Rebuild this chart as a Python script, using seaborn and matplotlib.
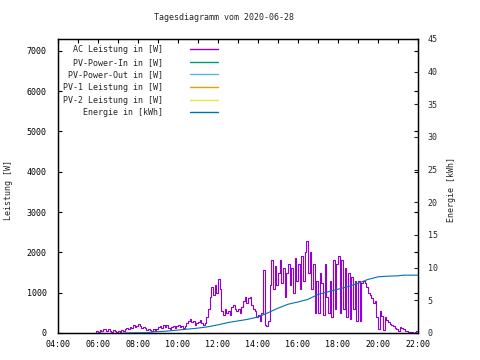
import numpy as np
import pandas as pd
import matplotlib
matplotlib.use("Agg")
import matplotlib.pyplot as plt
import seaborn as sns

# AC Leistung [W], 5-Minuten-Werte ab 05:50
ac_start = "05:50"
ac_watt = [0, 50,
           30, 80, 60, 100, 90, 40, 100, 60, 30, 80, 40, 20,
           60, 30, 80, 50, 100, 120, 90, 150, 120, 200, 160, 180,
           230, 180, 130, 160, 120, 80, 100, 70, 60, 90, 50, 100,
           150, 180, 120, 200, 160, 190, 130, 100, 150, 180, 120, 170,
           200, 150, 180, 120, 170, 250, 300, 350, 280, 300, 200, 250,
           280, 330, 250, 200, 250, 400, 600, 900, 1150, 950, 1200, 1000,
           1350, 1100, 550, 450, 600, 500, 550, 450, 650, 700, 600, 550,
           600, 500, 650, 800, 900, 750, 880, 900, 700, 600, 550, 400,
           450, 300, 500, 1550, 200, 180, 300, 1200, 1800, 1100, 1650, 1200,
           1500, 1800, 1250, 1600, 900, 1500, 1700, 1200, 1600, 1000, 1850, 1300,
           1700, 1100, 1900, 1300, 2000, 2280, 1500, 2000, 1100, 1700, 500, 1300,
           500, 1500, 1250, 450, 1700, 900, 500, 1300, 400, 1800, 600, 1700,
           1900, 500, 1800, 600, 1600, 400, 1500, 350, 1400, 600, 1300, 300,
           1300, 300, 1250, 1300, 1250, 1150, 1000, 950, 880, 750, 800, 400,
           100, 550, 420, 80, 400, 330, 280, 230, 200, 180, 130, 100,
           40, 150, 120, 90, 60, 40, 20, 10, 20, 10, 30, 50,
           40]

# Energie [kWh]
en_time = ["07:15", "08:30", "08:40", "09:00", "09:30", "10:00", "10:30", "11:00",
           "11:30", "12:00", "12:30", "13:00", "13:30", "14:00", "14:30", "15:00",
           "15:30", "16:00", "16:30", "17:00", "17:30", "18:00", "18:30", "19:00",
           "19:30", "20:00", "20:30", "21:00", "21:15", "22:00"]
en_kwh = [0, 0.05, 0.15, 0.2, 0.3, 0.45, 0.6, 0.75,
          0.95, 1.25, 1.6, 1.85, 2.1, 2.45, 3.1, 3.8,
          4.4, 4.75, 5.15, 5.9, 6.3, 6.7, 7.1, 7.6,
          8.2, 8.6, 8.7, 8.75, 8.85, 8.85]

tick_labels = ["04:00", "06:00", "08:00", "10:00", "12:00", "14:00", "16:00", "18:00", "20:00", "22:00"]


def to_hours(s):
    h, m = s.split(":")
    return int(h) + int(m) / 60


h0 = to_hours(ac_start)
ac = pd.DataFrame({"t": h0 + np.arange(len(ac_watt)) * 5 / 60, "w": ac_watt})
en = pd.DataFrame({"t": [to_hours(s) for s in en_time], "kwh": en_kwh})

sns.set_theme(style="white")
plt.rcParams["font.family"] = ["DejaVu Sans Mono"]
plt.rcParams["font.size"] = 6

fig = plt.figure(figsize=(4.8, 3.6), dpi=100)
ax = fig.add_axes([58 / 480, 27 / 360, 360 / 480, 294 / 360])
ax2 = ax.twinx()

sns.lineplot(data=ac, x="t", y="w", ax=ax, color="#9400d3", lw=0.8,
             drawstyle="steps-post", label="AC Leistung in [W]")
ax.plot([], [], color="#009e73", lw=1.0, label="PV-Power-In in [W]")
ax.plot([], [], color="#56b4e9", lw=1.0, label="PV-Power-Out in [W]")
ax.plot([], [], color="#e69f00", lw=1.0, label="PV-1 Leistung in [W]")
ax.plot([], [], color="#f0e442", lw=1.0, label="PV-2 Leistung in [W]")
sns.lineplot(data=en, x="t", y="kwh", ax=ax2, color="#0072b2", lw=0.8,
             label="Energie in [kWh]")

ax.set_xlim(4, 22)
ax.set_ylim(0, 7290)
ax2.set_ylim(0, 45)
ax.set_xticks(np.arange(4, 23, 2))
ax.set_xticklabels(tick_labels)
ax.set_xticks(np.arange(5, 22, 2), minor=True)
ax.set_yticks(np.arange(0, 7001, 1000))
ax2.set_yticks(np.arange(0, 46, 5))
ax.set_xlabel("")
ax.set_ylabel("")
ax2.set_ylabel("")

ax.tick_params(axis="both", which="both", direction="in", length=3, width=0.8,
               top=True, right=True, colors="black", labelsize=6)
ax.tick_params(axis="x", pad=5)
ax.tick_params(axis="y", pad=8)
ax2.tick_params(axis="y", direction="in", length=3, width=0.8, pad=7, labelsize=6)
for a in (ax, ax2):
    for sp in a.spines.values():
        sp.set_color("black")
        sp.set_linewidth(0.9)

h1, l1 = ax.get_legend_handles_labels()
h2, l2 = ax2.get_legend_handles_labels()
if ax2.get_legend():
    ax2.get_legend().remove()
leg = ax.legend(h1 + h2, l1 + l2, loc="upper left", bbox_to_anchor=(63 / 480, 1 - 45 / 360),
                bbox_transform=fig.transFigure, frameon=False, markerfirst=False,
                borderpad=0, borderaxespad=0, handlelength=3.4, handletextpad=3.2,
                labelspacing=0.44, fontsize=6)
for ln in leg.get_lines():
    ln.set_linewidth(1.0)

fig.text(224 / 480, 1 - 18 / 360, "Tagesdiagramm vom 2020-06-28", ha="center", va="center", fontsize=6)
fig.text(9 / 480, 1 - 190 / 360, "Leistung [W]", rotation=90, ha="center", va="center", fontsize=6)
fig.text(452 / 480, 1 - 190 / 360, "Energie [kWh]", rotation=90, ha="center", va="center", fontsize=6)

fig.savefig("out.png", dpi=100)
